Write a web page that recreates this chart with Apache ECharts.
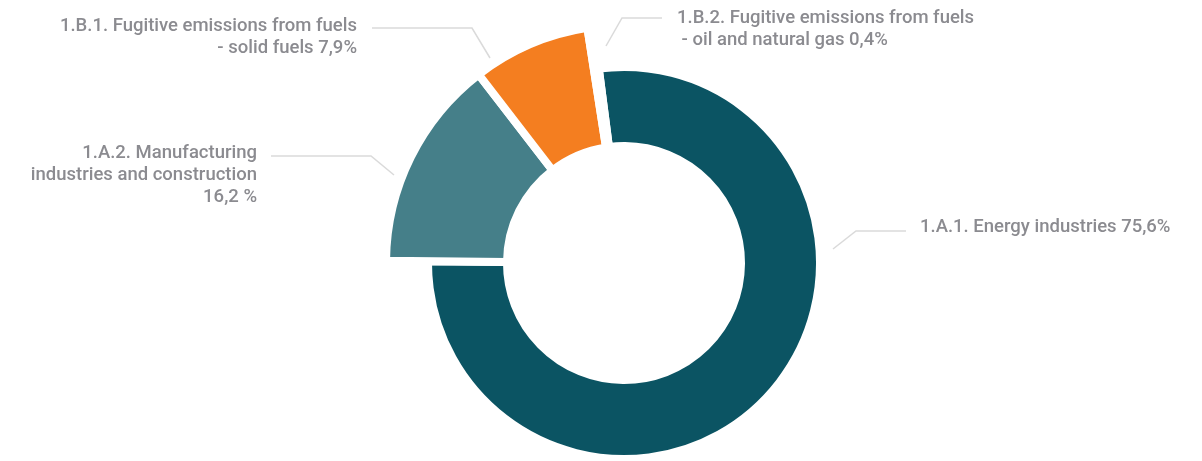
<!DOCTYPE html>
<html>
<head>
<meta charset="utf-8">
<title>Fugitive and energy emissions</title>
<script src="https://cdn.jsdelivr.net/npm/echarts@6/dist/echarts.min.js"></script>
<style>
    html, body { margin: 0; padding: 0; background: #fff; }
    #chart { width: 1202px; height: 461px; }
</style>
</head>
<body>
<div id="chart"></div>
<script>
// categories and shares as drawn in the picture
var labels = [
    '1.A.1. Energy industries 75,6%',
    '1.A.2. Manufacturing\nindustries and construction\n16,2 %',
    '1.B.1. Fugitive emissions from fuels\n- solid fuels 7,9%',
    '1.B.2. Fugitive emissions from fuels\n - oil and natural gas 0,4%'
];
var values = [77.2, 14.4, 8.0, 0.4];
var colors = ['#0b5463', '#457f89', '#f47e20', 'transparent'];
// which slice sits in the wide ring
var wide = [false, true, true, true];

// label placement (text anchor + leader line), pixels
var labelPos = [
    { x: 920, y: 227, align: 'left', line: [[833, 249], [856, 231], [906, 231]] },
    { x: 257, y: 175, align: 'right', line: [[394, 175], [371, 156], [271, 156]] },
    { x: 357, y: 37, align: 'right', line: [[490, 58], [472, 28], [372, 28]] },
    { x: 677, y: 29, align: 'left', line: [[606, 46], [622, 18], [662, 18]] }
];

var chart = echarts.init(document.getElementById('chart'), null, { renderer: 'canvas' });

function buildData(isWide) {
    var out = [];
    for (var i = 0; i < values.length; i++) {
        var on = wide[i] === isWide;
        out.push({
            name: labels[i],
            value: values[i],
            itemStyle: {
                color: on ? colors[i] : 'transparent',
                borderColor: '#fff',
                borderWidth: on ? 8 : 0
            },
            label: { show: on },
            labelLine: { show: on }
        });
    }
    return out;
}

function layoutLabel(params) {
    var p = labelPos[params.dataIndex];
    return {
        x: p.x,
        y: p.y,
        align: p.align,
        verticalAlign: 'middle',
        labelLinePoints: p.line
    };
}

var baseSeries = {
    type: 'pie',
    center: [624, 263],
    startAngle: 97.4,
    clockwise: true,
    avoidLabelOverlap: false,
    animation: false,
    emphasis: { disabled: true },
    label: {
        formatter: '{b}',
        color: '#8b8b90',
        fontFamily: 'Roboto',
        fontWeight: 500,
        fontSize: 18.5,
        lineHeight: 22
    },
    labelLine: {
        lineStyle: { color: '#dadada', width: 1.5 }
    },
    labelLayout: layoutLabel
};

var option = {
    backgroundColor: '#fff',
    series: [
        echarts.util.merge({ radius: [117, 196], data: buildData(false) }, baseSeries),
        echarts.util.merge({ radius: [117, 238], data: buildData(true) }, baseSeries)
    ]
};
chart.setOption(option);
</script>
</body>
</html>
